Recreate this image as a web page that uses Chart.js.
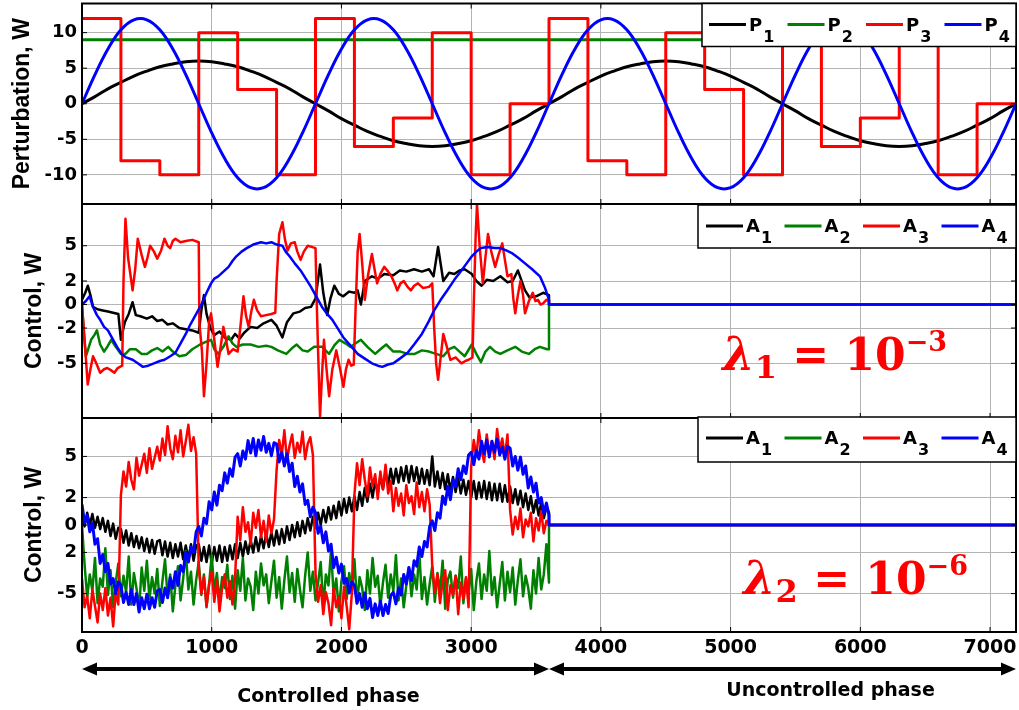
<!DOCTYPE html>
<html>
<head>
<meta charset="utf-8">
<title>Perturbation and control</title>
<script src="https://cdn.jsdelivr.net/npm/chart.js@4.4.1/dist/chart.umd.min.js"></script>
<style>
  html, body { margin: 0; padding: 0; background: #fff; }
  #page { position: relative; width: 1019px; height: 710px; overflow: hidden; }
  .panel { position: absolute; left: 0; width: 1019px; }
</style>
</head>
<body>
<div id="page">
  <div class="panel" style="top:0px;height:208px"><canvas id="perturbChart"></canvas></div>
  <div class="panel" style="top:200px;height:222px"><canvas id="controlChart1"></canvas></div>
  <div class="panel" style="top:414px;height:296px"><canvas id="controlChart2"></canvas></div>
</div>
<script>
// shared x axis
const timeTicks = [0, 1000, 2000, 3000, 4000, 5000, 6000, 7000];
const seriesColors = ['#000000', '#008000', '#ff0000', '#0000ff'];
const perturbNames = ['P1', 'P2', 'P3', 'P4'];
const controlNames = ['A1', 'A2', 'A3', 'A4'];

// ---- top panel: perturbations ----
const pTime = [
  0, 100, 200, 300, 400, 500, 600, 700, 800, 900, 1000, 1100, 1200, 1300, 1400, 1500, 1600, 1700,
  1800, 1900, 2000, 2100, 2200, 2300, 2400, 2500, 2600, 2700, 2800, 2900, 3000, 3100, 3200, 3300, 3400, 3500,
  3600, 3700, 3800, 3900, 4000, 4100, 4200, 4300, 4400, 4500, 4600, 4700, 4800, 4900, 5000, 5100, 5200, 5300,
  5400, 5500, 5600, 5700, 5800, 5900, 6000, 6100, 6200, 6300, 6400, 6500, 6600, 6700, 6800, 6900, 7000, 7100,
  7200
];
const p1Values = [
  0, 1.0, 2.1, 3.0, 3.9, 4.6, 5.2, 5.6, 5.9, 6.0, 5.9, 5.6, 5.2, 4.6, 3.9, 3.0, 2.1, 1.0,
  0, -1.0, -2.1, -3.0, -3.9, -4.6, -5.2, -5.6, -5.9, -6.0, -5.9, -5.6, -5.2, -4.6, -3.9, -3.0, -2.1, -1.0,
  0, 1.0, 2.1, 3.0, 3.9, 4.6, 5.2, 5.6, 5.9, 6.0, 5.9, 5.6, 5.2, 4.6, 3.9, 3.0, 2.1, 1.0,
  0, -1.0, -2.1, -3.0, -3.9, -4.6, -5.2, -5.6, -5.9, -6.0, -5.9, -5.6, -5.2, -4.6, -3.9, -3.0, -2.1, -1.0,
  0
];
const p4Values = [
  0, 4.1, 7.7, 10.4, 11.8, 11.8, 10.4, 7.7, 4.1, 0, -4.1, -7.7, -10.4, -11.8, -11.8, -10.4, -7.7, -4.1,
  0, 4.1, 7.7, 10.4, 11.8, 11.8, 10.4, 7.7, 4.1, 0, -4.1, -7.7, -10.4, -11.8, -11.8, -10.4, -7.7, -4.1,
  0, 4.1, 7.7, 10.4, 11.8, 11.8, 10.4, 7.7, 4.1, 0, -4.1, -7.7, -10.4, -11.8, -11.8, -10.4, -7.7, -4.1,
  0, 4.1, 7.7, 10.4, 11.8, 11.8, 10.4, 7.7, 4.1, 0, -4.1, -7.7, -10.4, -11.8, -11.8, -10.4, -7.7, -4.1,
  0
];
const p2Time = [0, 7200];
const p2Values = [9, 9];
// step changes of P3: [time, level]
const p3Steps = [
  [0, 12], [300, -8], [600, -10], [900, 10], [1200, 2], [1500, -10], [1800, 12], [2100, -6],
  [2400, -2], [2700, 10], [3000, -10], [3300, 0], [3600, 12], [3900, -8], [4200, -10], [4500, 10],
  [4800, 2], [5100, -10], [5400, 12], [5700, -6], [6000, -2], [6300, 10], [6600, -10], [6900, 0], [7200, 0]
];

// ---- middle panel: control, lambda = 1e-3 ([time, value]) ----
const a1Mid = [
  [0, 0.4], [25, 1.0], [45, 1.6], [65, 0.8], [85, -0.2], [120, -0.4], [160, -0.5], [200, -0.6], [240, -0.7],
  [280, -0.8], [300, -3.0], [330, -1.5], [360, -0.8], [390, 0.2], [415, -0.9], [450, -1.0], [500, -1.2],
  [540, -1.0], [580, -1.4], [620, -1.3], [660, -1.7], [700, -1.6], [750, -2.0], [800, -2.1], [850, -2.2],
  [900, -2.4], [920, -0.5], [940, 0.8], [960, -0.8], [990, -2.0], [1020, -2.6], [1060, -2.3], [1100, -2.8],
  [1150, -3.0], [1180, -2.5], [1215, -2.9], [1250, -2.4], [1300, -1.9], [1350, -2.0], [1400, -1.6],
  [1460, -1.3], [1500, -1.8], [1545, -2.8], [1580, -1.5], [1630, -0.75], [1680, -0.6], [1720, -0.3],
  [1765, -0.2], [1800, 0.5], [1835, 3.4], [1860, 1.0], [1890, -0.9], [1915, 0.5], [1945, 1.6], [1980, 0.9],
  [2014, 0.7], [2060, 1.1], [2100, 1.0], [2125, 1.2], [2150, 0.0], [2180, 2.0], [2235, 2.4], [2280, 2.2],
  [2330, 2.6], [2400, 2.5], [2450, 2.9], [2500, 2.8], [2560, 3.0], [2620, 2.8], [2675, 3.0], [2710, 2.4],
  [2745, 4.9], [2785, 2.0], [2830, 2.7], [2870, 2.6], [2910, 2.9], [2950, 3.0], [3005, 2.6], [3040, 2.0],
  [3080, 1.6], [3120, 2.1], [3170, 2.0], [3225, 2.4], [3280, 1.9], [3320, 2.0], [3360, 2.9], [3415, 1.2],
  [3450, 0.6], [3500, 0.7], [3555, 1.0], [3600, 0.8]
];
const a2Mid = [
  [0, 0], [15, -2.5], [30, -4.4], [50, -3.7], [70, -3.0], [95, -2.6], [115, -2.2], [140, -3.4], [170, -4.0],
  [200, -3.5], [225, -3.0], [260, -3.6], [300, -4.2], [335, -4.2], [370, -3.8], [415, -3.8], [460, -4.2],
  [500, -4.2], [540, -3.9], [580, -3.7], [620, -4.0], [665, -3.6], [700, -4.0], [750, -4.4], [800, -4.3],
  [850, -3.8], [910, -3.4], [950, -3.2], [995, -3.0], [1020, -3.8], [1050, -4.2], [1090, -3.6], [1130, -2.7],
  [1160, -3.3], [1190, -3.6], [1240, -3.4], [1300, -3.4], [1360, -3.6], [1420, -3.5], [1460, -3.6],
  [1510, -3.9], [1575, -4.2], [1620, -3.7], [1655, -3.4], [1700, -3.9], [1740, -4.0], [1790, -3.6],
  [1850, -3.6], [1905, -4.2], [1950, -3.4], [1985, -3.0], [2030, -3.3], [2070, -3.6], [2110, -3.3],
  [2150, -3.0], [2200, -3.6], [2260, -4.2], [2300, -3.8], [2345, -3.4], [2400, -4.0], [2455, -4.0],
  [2510, -4.2], [2565, -4.2], [2620, -3.9], [2675, -4.0], [2730, -4.2], [2785, -4.4], [2830, -3.8],
  [2870, -3.6], [2910, -4.0], [2950, -4.4], [3005, -3.4], [3040, -4.2], [3075, -4.9], [3110, -4.0],
  [3145, -3.6], [3185, -4.0], [3225, -4.2], [3280, -3.9], [3340, -3.6], [3390, -4.0], [3445, -4.2],
  [3490, -3.8], [3530, -3.6], [3585, -3.8], [3600, -3.8]
];
const a3Mid = [
  [0, 0], [20, -3], [44, -6.8], [65, -5.5], [85, -4.4], [110, -5.0], [140, -5.8], [170, -5.5], [195, -5.4],
  [225, -5.6], [250, -5.8], [275, -5.4], [310, -5.2], [320, 2], [335, 7.3], [355, 4], [390, 1.2], [410, 3],
  [430, 5.6], [460, 4.2], [485, 3.2], [505, 4.0], [525, 5.0], [555, 4.5], [580, 3.9], [610, 4.6], [636, 5.6],
  [660, 5.0], [680, 4.8], [700, 5.4], [720, 5.6], [760, 5.3], [800, 5.4], [850, 5.5], [900, 5.3], [905, -1.6],
  [925, -4], [940, -7.8], [960, -5], [980, -1.5], [995, -0.75], [1020, -3], [1045, -5.3], [1070, -3.5],
  [1090, -1.9], [1110, -3.0], [1130, -4.2], [1165, -3.8], [1200, -4.0], [1220, -2], [1245, 0.7], [1265, -1.0],
  [1285, -1.9], [1305, -0.6], [1325, 0.4], [1350, -0.5], [1380, -1.0], [1420, -0.9], [1460, -0.8],
  [1490, -0.7], [1500, 2], [1520, 6], [1545, 7.0], [1565, 5.5], [1585, 4.6], [1610, 5.2], [1640, 5.3],
  [1660, 4.5], [1685, 3.8], [1710, 4.5], [1740, 5.0], [1770, 4.9], [1800, 4.8], [1810, 0], [1820, -4],
  [1835, -9.5], [1850, -6], [1865, -3.0], [1885, -5.5], [1905, -7.8], [1930, -5.5], [1960, -3.9],
  [1990, -5.5], [2015, -7.0], [2035, -5.5], [2055, -4.7], [2075, -5.2], [2095, -5.1], [2110, 0], [2125, 4.5],
  [2140, 6.0], [2160, 3.5], [2180, 0.4], [2205, 2.5], [2235, 4.3], [2255, 3.0], [2275, 1.8], [2300, 2.6],
  [2330, 3.2], [2360, 2.8], [2385, 2.4], [2410, 1.8], [2430, 1.2], [2455, 1.8], [2480, 2.0], [2510, 1.5],
  [2535, 1.2], [2560, 1.6], [2590, 1.8], [2630, 1.4], [2675, 1.5], [2700, 1.8], [2715, -2], [2730, -5],
  [2745, -6.4], [2765, -4.5], [2785, -2.5], [2810, -3.5], [2840, -4.7], [2880, -4.5], [2925, -5.0],
  [2955, -4.8], [2980, -4.7], [3010, -4.5], [3020, 0], [3035, 6], [3045, 8.5], [3065, 5], [3090, 1.8],
  [3110, 4], [3130, 6.0], [3155, 4.5], [3185, 3.2], [3210, 4.2], [3240, 5.2], [3260, 3.8], [3280, 2.4],
  [3310, 2.6], [3325, 0.5], [3340, -0.75], [3360, 0.8], [3380, 2.0], [3400, 0.8], [3415, -0.75],
  [3445, 0.3], [3475, 1.0], [3495, 0.3], [3515, 0.4], [3535, 0.0], [3555, 0.1], [3580, 0.4], [3600, 0.3]
];
const a4Mid = [
  [0, 0], [30, 0.3], [58, 0.7], [85, -0.2], [115, -0.9], [140, -1.3], [170, -1.9], [200, -2.2], [240, -3.0],
  [270, -3.6], [305, -4.2], [340, -4.5], [390, -4.7], [430, -5.0], [470, -5.3], [510, -5.2], [555, -5.0],
  [600, -4.8], [636, -4.7], [680, -4.4], [720, -4.1], [760, -3.3], [800, -2.5], [835, -1.7], [870, -1.0],
  [900, -0.4], [925, 0.1], [960, 1.0], [995, 1.8], [1020, 2.2], [1050, 2.4], [1090, 2.8], [1130, 3.2],
  [1160, 3.7], [1190, 4.1], [1230, 4.5], [1270, 4.8], [1320, 5.1], [1380, 5.3], [1420, 5.2], [1460, 5.3],
  [1500, 5.1], [1545, 5.0], [1570, 4.5], [1600, 4.1], [1640, 3.5], [1685, 2.9], [1725, 2.2], [1765, 1.5],
  [1800, 0.8], [1850, -0.2], [1890, -0.8], [1930, -1.3], [1970, -2.0], [2015, -2.8], [2070, -3.5],
  [2125, -4.2], [2180, -4.6], [2235, -5.0], [2280, -5.2], [2315, -5.3], [2360, -5.1], [2400, -5.0],
  [2450, -4.6], [2510, -4.1], [2560, -3.4], [2620, -2.5], [2670, -1.5], [2715, -0.5], [2765, 0.4],
  [2815, 1.2], [2870, 2.1], [2925, 2.9], [2965, 3.5], [3005, 4.1], [3040, 4.5], [3075, 4.8], [3130, 4.9],
  [3180, 4.8], [3225, 4.8], [3270, 4.6], [3310, 4.4], [3360, 4.0], [3415, 3.5], [3470, 3.0], [3530, 2.4],
  [3570, 1.4], [3600, 0.4]
];

// ---- bottom panel: control, lambda = 1e-6 (sampled every 20) ----
const ctrlTime = [
  0, 20, 40, 60, 80, 100, 120, 140, 160, 180, 200, 220, 240, 260, 280,
  300, 320, 340, 360, 380, 400, 420, 440, 460, 480, 500, 520, 540, 560, 580,
  600, 620, 640, 660, 680, 700, 720, 740, 760, 780, 800, 820, 840, 860, 880,
  900, 920, 940, 960, 980, 1000, 1020, 1040, 1060, 1080, 1100, 1120, 1140, 1160, 1180,
  1200, 1220, 1240, 1260, 1280, 1300, 1320, 1340, 1360, 1380, 1400, 1420, 1440, 1460, 1480,
  1500, 1520, 1540, 1560, 1580, 1600, 1620, 1640, 1660, 1680, 1700, 1720, 1740, 1760, 1780,
  1800, 1820, 1840, 1860, 1880, 1900, 1920, 1940, 1960, 1980, 2000, 2020, 2040, 2060, 2080,
  2100, 2120, 2140, 2160, 2180, 2200, 2220, 2240, 2260, 2280, 2300, 2320, 2340, 2360, 2380,
  2400, 2420, 2440, 2460, 2480, 2500, 2520, 2540, 2560, 2580, 2600, 2620, 2640, 2660, 2680,
  2700, 2720, 2740, 2760, 2780, 2800, 2820, 2840, 2860, 2880, 2900, 2920, 2940, 2960, 2980,
  3000, 3020, 3040, 3060, 3080, 3100, 3120, 3140, 3160, 3180, 3200, 3220, 3240, 3260, 3280,
  3300, 3320, 3340, 3360, 3380, 3400, 3420, 3440, 3460, 3480, 3500, 3520, 3540, 3560, 3580,
  3600
];
const a1Low = [
  0.7, -0.1, 0.9, 0.0, 0.8, -0.2, 0.6, -0.3, 0.5, -0.5, 0.3, -0.8, 0.1, -1.0, -0.2,
  -0.3, -1.3, -0.4, -1.5, -0.6, -1.6, -0.8, -1.7, -0.9, -1.9, -1.0, -2.0, -1.1, -2.1, -1.2,
  -1.1, -2.2, -1.2, -2.3, -1.3, -2.4, -1.4, -2.3, -1.3, -2.5, -1.5, -2.5, -1.4, -2.6, -1.5,
  -1.4, -2.6, -1.6, -2.7, -1.5, -2.8, -1.6, -2.6, -1.5, -2.7, -1.6, -2.6, -1.5, -2.5, -1.4,
  -2.4, -1.3, -2.3, -1.2, -2.1, -1.1, -2.0, -0.9, -1.9, -0.8, -1.7, -0.6, -1.6, -0.5, -1.5,
  -0.4, -1.4, -0.3, -1.3, -0.1, -1.1, 0.0, -0.9, 0.2, -0.8, 0.3, -0.6, 0.5, -0.4, 0.6,
  -0.2, 0.9, 0.0, 1.1, 0.2, 1.3, 0.4, 1.4, 0.5, 1.7, 0.7, 1.9, 0.9, 2.0, 1.0,
  2.1, 1.1, 2.4, 1.4, 2.7, 1.7, 3.0, 2.0, 3.3, 2.3, 3.6, 2.6, 3.9, 2.9, 4.1,
  3.0, 4.1, 3.1, 4.2, 3.2, 4.3, 3.1, 4.3, 3.2, 4.2, 3.0, 4.1, 3.0, 4.0, 2.9,
  5.0, 2.8, 3.9, 2.7, 3.8, 2.6, 3.7, 2.5, 3.5, 2.4, 3.4, 2.3, 3.3, 2.2, 3.2,
  2.0, 3.2, 1.9, 3.1, 2.0, 3.2, 1.9, 3.1, 1.8, 3.0, 1.8, 3.0, 1.7, 2.9, 1.7,
  2.8, 1.6, 2.6, 1.5, 2.5, 1.3, 2.3, 1.1, 2.1, 0.9, 1.8, 0.7, 1.6, 0.5, 1.3,
  0.9
];
const a2Low = [
  0.0, -2.9, -5.3, -3.6, -4.8, -2.4, -5.7, -3.9, -4.5, -1.7, -5.1, -3.3, -6.0, -4.2, -2.8,
  -5.2, -3.7, -4.9, -2.3, -5.8, -3.5, -4.6, -6.2, -3.1, -4.8, -2.6, -5.4, -3.8, -5.0, -3.2,
  -5.9, -4.1, -2.5, -5.3, -3.6, -6.3, -4.4, -3.0, -5.5, -3.9, -1.9, -4.7, -3.4, -5.8, -4.0,
  -2.7, -5.1, -3.6, -6.0, -4.3, -2.2, -4.9, -3.5, -5.6, -3.8, -4.6, -2.9, -5.4, -3.7, -6.1,
  -3.3, -4.8, -2.4, -5.5, -3.9, -4.5, -6.2, -3.4, -5.0, -2.8, -4.4, -3.6, -5.7, -4.1, -2.6,
  -5.3, -3.8, -6.1, -4.0, -2.3, -4.9, -3.5, -5.6, -3.2, -4.7, -6.0, -3.7, -2.0, -4.8, -3.4,
  -5.5, -4.2, -2.7, -5.9, -3.6, -4.4, -1.8, -5.2, -3.9, -6.3, -4.1, -3.0, -5.4, -3.5, -4.9,
  -2.5, -5.7, -3.8, -4.6, -6.2, -3.3, -5.0, -2.4, -4.5, -3.7, -5.9, -4.2, -2.9, -5.3, -3.6,
  -4.8, -2.2, -5.5, -3.9, -6.0, -4.4, -3.1, -5.2, -3.6, -4.7, -1.9, -5.4, -3.8, -5.8, -4.3,
  -3.0, -5.6, -3.5, -4.9, -2.6, -6.1, -4.0, -3.4, -5.3, -3.7, -4.6, -2.3, -5.7, -3.9, -5.0,
  -3.2, -6.2, -4.1, -2.8, -5.4, -3.6, -4.8, -1.9, -5.1, -3.8, -6.0, -4.3, -2.7, -5.5, -3.4,
  -4.9, -3.1, -5.8, -4.0, -2.5, -5.2, -3.7, -4.6, -6.1, -3.3, -5.0, -2.4, -4.7, -3.6, -1.4,
  -4.2
];
const a3Low = [
  -3.9, -6.0, -5.2, -6.8, -4.7, -5.9, -7.1, -5.0, -6.2, -4.6, -6.6, -5.3, -7.4, -4.9, -5.8,
  2.2, 3.9, 2.8, 4.6, 3.3, 2.6, 4.9, 3.6, 4.4, 5.2, 3.8, 5.6, 4.1, 4.9, 5.7,
  4.7, 6.3, 5.1, 7.2, 5.6, 4.8, 6.5, 5.3, 6.9, 5.0, 6.1, 7.3, 5.4, 6.4, 5.2,
  -3.1, -5.0, -3.8, -5.9, -4.3, -3.4, -5.6, -4.0, -6.3, -4.6, -3.6, -5.3, -4.1, -5.8, -3.9,
  0.6, -1.1, 1.3, -0.5, 0.2, -1.4, 0.9, -0.2, 1.1, -0.9, 0.3, -1.2, 0.7, -0.6, 0.4,
  4.0, 6.2, 5.1, 6.9, 4.7, 5.8, 6.6, 4.9, 6.0, 5.3, 6.8, 4.8, 5.9, 6.4, 5.1,
  -3.5, -5.6, -4.4, -6.5, -4.9, -5.7, -7.3, -4.6, -6.0, -5.2, -6.8, -4.5, -5.9, -7.6, -5.0,
  2.2, 4.5, 2.9, 4.8, 3.3, 2.1, 4.2, 2.8, 3.7, 1.9, 3.9, 2.6, 4.4, 2.3, 3.2,
  1.0, 2.7, 1.4, 2.3, 0.7, 2.9, 1.6, 2.1, 0.8, 3.1, 1.3, 2.4, 1.0, 2.6, 1.5,
  -3.0, -4.9, -3.6, -5.7, -4.1, -3.3, -6.2, -4.4, -5.1, -3.7, -6.5, -4.2, -5.4, -3.8, -6.0,
  4.3, 6.2, 5.0, 6.9, 5.4, 4.6, 6.6, 5.2, 6.1, 4.8, 7.0, 5.5, 6.3, 5.0, 6.6,
  1.1, -0.7, 0.6, -0.3, 1.2, -0.9, 0.4, -0.1, 0.9, -1.2, 0.5, -0.4, 1.0, -0.6, 0.3,
  0.2
];
const a4Low = [
  1.5, 0.15, 0.7, -0.5, 0.15, -1.4, -1.0, -2.8, -2.15, -3.4, -2.8, -4.3, -3.9, -5.0, -4.15,
  -4.4, -5.65, -4.9, -5.8, -4.7, -5.8, -5.0, -6.35, -5.3, -6.1, -5.05, -6.1, -5.3, -6.0, -4.8,
  -4.7, -5.65, -4.6, -5.3, -3.85, -4.6, -3.4, -4.4, -2.95, -3.4, -2.0, -2.7, -1.6, -2.0, -0.5,
  -0.1, -0.8, 0.5, 0.1, 1.7, 1.1, 2.4, 1.45, 2.9, 2.5, 3.8, 3.05, 4.1, 3.55, 4.95,
  5.2, 4.3, 5.4, 4.8, 6.15, 5.25, 6.3, 5.05, 6.2, 5.45, 6.45, 5.3, 5.95, 5.05, 6.0,
  5.9, 4.6, 5.3, 4.3, 5.2, 3.9, 4.5, 2.8, 3.55, 2.4, 3.0, 1.5, 1.8, 0.6, 1.3,
  0.9, -0.6, -0.1, -1.3, -0.5, -1.9, -1.4, -3.1, -2.35, -3.5, -2.85, -4.25, -3.9, -4.95, -4.15,
  -4.4, -5.7, -5.0, -6.0, -4.95, -6.1, -5.35, -6.75, -5.75, -6.6, -5.55, -6.6, -5.8, -6.45, -5.15,
  -4.9, -5.75, -4.6, -5.1, -3.6, -4.3, -3.1, -4.05, -2.6, -3.0, -1.6, -2.3, -1.2, -1.6, -0.1,
  0.3, -0.4, 0.9, 0.5, 2.1, 1.5, 2.8, 1.85, 3.3, 2.8, 4.1, 3.3, 4.3, 3.75, 5.1,
  5.3, 4.4, 5.45, 4.8, 6.1, 5.2, 6.2, 4.95, 6.1, 5.3, 6.25, 5.1, 5.7, 4.8, 5.75,
  5.6, 4.3, 5.0, 4.0, 4.95, 3.7, 4.3, 2.7, 3.5, 2.4, 3.05, 1.6, 2.0, 0.85, 1.6,
  0.7
];

// uncontrolled phase: every control is switched off
const offTime = [3600, 7200];
const offValues = [0, 0];

// y ticks
const perturbTicks = [-10, -5, 0, 5, 10];
const perturbTickLabels = ['-10', '-5', '0', '5', '10'];
const controlTicks = [-5, -2, 0, 2, 5];
const control1TickLabels = ['-5', '-2', '0', '2', '5'];
const control2TickLabels = ['-5', '2', '0', '2', '5'];

// annotations
const lambdaNotes = [
  { sub: '1', exp: '\u22123', x: 4937, y: -5.57 },
  { sub: '2', exp: '\u22126', x: 5098, y: -5.0 }
];
const phaseNames = ['Controlled phase', 'Uncontrolled phase'];
const phaseLabelX = [1900, 5770];
const phaseBounds = [0, 3600, 7200];

const gridColor = '#b4b4b4';
const sansBold = "'DejaVu Sans', sans-serif";
const serif = "'DejaVu Serif', serif";

function pts(times, values) {
  return times.map((t, i) => ({ x: t, y: values[i] }));
}
function pairs(list) {
  return list.map(p => ({ x: p[0], y: p[1] }));
}
function switchedOff(points) {
  return points.concat(pts(offTime, offValues));
}

function lineSet(label, idx, data, width, extra) {
  return Object.assign({
    label: label,
    data: data,
    borderColor: seriesColors[idx],
    backgroundColor: seriesColors[idx],
    borderWidth: width,
    pointRadius: 0,
    fill: false,
    tension: 0,
    order: 4 - idx
  }, extra || {});
}

function drawLegend(chart, lg) {
  const { ctx, chartArea: area } = chart;
  const left = area.right - lg.width;
  const top = area.top + lg.dy;
  ctx.fillStyle = '#fff';
  ctx.fillRect(left, top, lg.width, lg.height);
  ctx.strokeStyle = '#000';
  ctx.lineWidth = 1.5;
  ctx.strokeRect(left, top, lg.width, lg.height);
  ctx.textAlign = 'left';
  ctx.textBaseline = 'alphabetic';
  chart.data.datasets.forEach((ds, i) => {
    const x0 = left + lg.start + i * 78.5;
    ctx.strokeStyle = ds.borderColor;
    ctx.lineWidth = 3;
    ctx.beginPath();
    ctx.moveTo(x0, top + 21);
    ctx.lineTo(x0 + 37, top + 21);
    ctx.stroke();
    ctx.fillStyle = '#000';
    ctx.font = 'bold 18px ' + sansBold;
    const letter = ds.label.charAt(0);
    ctx.fillText(letter, x0 + 40, top + 27);
    const w = ctx.measureText(letter).width;
    ctx.font = 'bold 16px ' + sansBold;
    ctx.fillText(ds.label.slice(1), x0 + 41 + w, top + 38);
  });
}

function drawLambda(chart, note) {
  const { ctx, scales } = chart;
  let x = scales.x.getPixelForValue(note.x);
  const y = scales.y.getPixelForValue(note.y);
  ctx.fillStyle = '#ff0000';
  ctx.textAlign = 'left';
  ctx.textBaseline = 'alphabetic';
  const parts = [
    ['\u03bb', 'italic bold 46px ' + serif, 0],
    [note.sub, 'bold 32px ' + serif, 8],
    [' = ', 'bold 44px ' + serif, 0],
    ['10', 'bold 44px ' + serif, 0],
    [note.exp, 'bold 27px ' + serif, -19]
  ];
  parts.forEach(p => {
    ctx.font = p[1];
    ctx.fillText(p[0], x, y + p[2]);
    x += ctx.measureText(p[0]).width;
  });
}

function arrowHead(ctx, x, y, dir) {
  ctx.beginPath();
  ctx.moveTo(x, y);
  ctx.lineTo(x - dir * 15, y - 6.5);
  ctx.lineTo(x - dir * 15, y + 6.5);
  ctx.closePath();
  ctx.fill();
}

function drawPhases(chart) {
  const { ctx, chartArea: area, scales } = chart;
  const y = area.bottom + 37;
  ctx.strokeStyle = '#000';
  ctx.fillStyle = '#000';
  ctx.lineWidth = 4;
  for (let k = 0; k < phaseBounds.length - 1; k++) {
    const a = scales.x.getPixelForValue(phaseBounds[k]);
    const b = scales.x.getPixelForValue(phaseBounds[k + 1]);
    ctx.beginPath();
    ctx.moveTo(a + 10, y);
    ctx.lineTo(b - 10, y);
    ctx.stroke();
    arrowHead(ctx, a, y, -1);
    arrowHead(ctx, b, y, 1);
  }
  ctx.font = 'bold 19px ' + sansBold;
  ctx.textAlign = 'center';
  ctx.textBaseline = 'alphabetic';
  ctx.fillText(phaseNames[0], scales.x.getPixelForValue(phaseLabelX[0]), area.bottom + 70);
  ctx.fillText(phaseNames[1], scales.x.getPixelForValue(phaseLabelX[1]), area.bottom + 64);
}

const decor = {
  id: 'decor',
  afterDraw(chart, args, opts) {
    const { ctx, chartArea: area, scales } = chart;
    ctx.save();
    // small inward ticks on all four sides
    ctx.strokeStyle = '#000';
    ctx.lineWidth = 1;
    ctx.beginPath();
    scales.x.ticks.forEach(t => {
      const px = scales.x.getPixelForValue(t.value);
      ctx.moveTo(px, area.top); ctx.lineTo(px, area.top + 5);
      ctx.moveTo(px, area.bottom); ctx.lineTo(px, area.bottom - 5);
    });
    scales.y.ticks.forEach(t => {
      const py = scales.y.getPixelForValue(t.value);
      ctx.moveTo(area.left, py); ctx.lineTo(area.left + 5, py);
      ctx.moveTo(area.right, py); ctx.lineTo(area.right - 5, py);
    });
    ctx.stroke();
    ctx.lineWidth = 2;
    ctx.strokeRect(area.left, area.top, area.right - area.left, area.bottom - area.top);
    if (opts.legend) drawLegend(chart, opts.legend);
    if (opts.lambda) drawLambda(chart, opts.lambda);
    if (opts.phases) drawPhases(chart);
    ctx.restore();
  }
};

function makePanel(canvasId, cfg) {
  return new Chart(document.getElementById(canvasId), {
    type: 'line',
    data: { datasets: cfg.datasets },
    options: {
      responsive: true,
      maintainAspectRatio: false,
      animation: false,
      events: [],
      layout: { padding: cfg.padding },
      elements: { point: { radius: 0 }, line: { borderJoinStyle: 'round', borderCapStyle: 'butt' } },
      scales: {
        x: {
          type: 'linear',
          min: 0,
          max: 7200,
          afterBuildTicks: s => { s.ticks = timeTicks.map(v => ({ value: v })); },
          afterFit: s => {
            s.height = cfg.xHeight;
            s.paddingLeft = 0; s.paddingRight = 0;
          },
          grid: { color: gridColor, lineWidth: 1, drawTicks: false },
          border: { display: false },
          ticks: {
            display: cfg.showX,
            padding: 5,
            color: '#000',
            maxRotation: 0,
            autoSkip: false,
            font: { family: sansBold, weight: 'bold', size: 19 },
            callback: v => String(v)
          }
        },
        y: {
          type: 'linear',
          min: cfg.yMin,
          max: cfg.yMax,
          afterBuildTicks: s => { s.ticks = cfg.yTicks.map(v => ({ value: v })); },
          afterFit: s => {
            s.width = 82;
            s.paddingTop = 0; s.paddingBottom = 0;
          },
          grid: { color: gridColor, lineWidth: 1, drawTicks: false },
          border: { display: false },
          ticks: {
            padding: 5,
            color: '#000',
            font: { family: sansBold, weight: 'bold', size: 18 },
            callback: (v, i) => cfg.yLabels[i]
          },
          title: {
            display: true,
            text: cfg.yTitle,
            color: '#000',
            font: { family: "'Liberation Sans', Arial, sans-serif", weight: 'bold', size: 23, lineHeight: 1 },
            padding: { top: cfg.titlePad, bottom: 0 }
          }
        }
      },
      plugins: {
        legend: { display: false },
        tooltip: { enabled: false },
        decor: cfg.decor
      }
    },
    plugins: [decor]
  });
}

document.addEventListener('DOMContentLoaded', function () {
  makePanel('perturbChart', {
    datasets: [
      lineSet(perturbNames[0], 0, pts(pTime, p1Values), 3, { tension: 0.4 }),
      lineSet(perturbNames[1], 1, pts(p2Time, p2Values), 3),
      lineSet(perturbNames[2], 2, pairs(p3Steps), 3, { stepped: 'before' }),
      lineSet(perturbNames[3], 3, pts(pTime, p4Values), 3, { tension: 0.4 })
    ],
    padding: { left: 0, right: 3, top: 3.5, bottom: 4 },
    xHeight: 0,
    showX: false,
    yMin: -14.1, yMax: 14.1,
    yTicks: perturbTicks, yLabels: perturbTickLabels,
    yTitle: 'Perturbation, W',
    titlePad: 11,
    decor: { legend: { width: 314, height: 43, dy: 0, start: 7 } }
  });

  makePanel('controlChart1', {
    datasets: [
      lineSet(controlNames[0], 0, switchedOff(pairs(a1Mid)), 2.5),
      lineSet(controlNames[1], 1, switchedOff(pairs(a2Mid)), 2.5),
      lineSet(controlNames[2], 2, switchedOff(pairs(a3Mid)), 2.5),
      lineSet(controlNames[3], 3, switchedOff(pairs(a4Mid)), 2.5)
    ],
    padding: { left: 0, right: 3, top: 4, bottom: 4 },
    xHeight: 0,
    showX: false,
    yMin: -9.65, yMax: 8.55,
    yTicks: controlTicks, yLabels: control1TickLabels,
    yTitle: 'Control, W',
    titlePad: 23,
    decor: { legend: { width: 318, height: 43, dy: 1, start: 8 }, lambda: lambdaNotes[0] }
  });

  makePanel('controlChart2', {
    datasets: [
      lineSet(controlNames[0], 0, switchedOff(pts(ctrlTime, a1Low)), 2.5),
      lineSet(controlNames[1], 1, switchedOff(pts(ctrlTime, a2Low)), 2.5),
      lineSet(controlNames[2], 2, switchedOff(pts(ctrlTime, a3Low)), 2.5),
      lineSet(controlNames[3], 3, switchedOff(pts(ctrlTime, a4Low)), 3)
    ],
    padding: { left: 0, right: 3, top: 4, bottom: 0 },
    xHeight: 78,
    showX: true,
    yMin: -7.8, yMax: 7.8,
    yTicks: controlTicks, yLabels: control2TickLabels,
    yTitle: 'Control, W',
    titlePad: 23,
    decor: { legend: { width: 318, height: 45, dy: -1, start: 8 }, lambda: lambdaNotes[1], phases: true }
  });
});
</script>
</body>
</html>
